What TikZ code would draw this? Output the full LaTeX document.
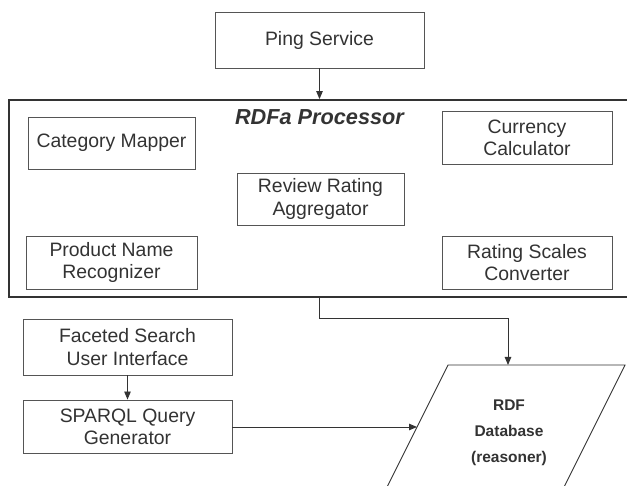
\documentclass[tikz,border=0pt]{standalone}
\usepackage{fontspec}
\setmainfont{Liberation Sans}
\usepackage{tikz}
\usetikzlibrary{arrows.meta,positioning,calc}
\usepackage{xcolor}
\definecolor{ink}{HTML}{333333}
\definecolor{edge}{HTML}{555555}
\tikzset{
  pbox/.style={rectangle,draw=edge,fill=white,text=ink,line width=0.9pt,
    inner sep=0pt,align=center,font=\fontsize{19.4}{22.3}\selectfont},
  outerbox/.style={rectangle,draw=ink,line width=1.8pt,inner sep=0pt},
  conn/.style={-{Triangle[length=8pt,width=6.5pt]},line width=0.9pt,color=ink},
  dbshape/.style={draw=ink,line width=0.9pt},
}

\begin{document}
\begin{tikzpicture}[x=1pt,y=-1pt]
  \clip (0,0) rectangle (627,486);

  \node[pbox,minimum width=209pt,minimum height=56pt] (ping) at (319.5,40){Ping Service};
  \node[outerbox,minimum width=636pt,minimum height=197pt] (rdfa) at (327,198.5){};
  \node[font=\fontsize{21.7}{24}\selectfont\bfseries\itshape,text=ink] (title) at (319.5,117){RDFa Processor};

  \node[pbox,minimum width=167pt,minimum height=52pt] (cat) at (111.5,143){Category Mapper};
  \node[pbox,minimum width=170pt,minimum height=53pt] (cur) at (527,137.5){Currency\\Calculator};
  \node[pbox,minimum width=167pt,minimum height=52pt] (rev) at (320.5,199){Review Rating\\Aggregator};
  \node[pbox,minimum width=171pt,minimum height=53pt] (prod) at (111.5,262.5){Product Name\\Recognizer};
  \node[pbox,minimum width=170pt,minimum height=53pt] (rsc) at (527,262.5){Rating Scales\\Converter};

  \node[pbox,minimum width=209pt,minimum height=56pt] (facet) at (127.5,347){Faceted Search\\User Interface};
  \node[pbox,minimum width=209pt,minimum height=53pt] (sparql) at (127.5,426.5){SPARQL Query\\Generator};

  % database parallelogram
  \coordinate (dbTL) at (448,365);
  \coordinate (dbTR) at (625,365);
  \draw[dbshape] ($(dbTL)+(-67.5,135)$) -- (dbTL) -- (dbTR) -- ($(dbTR)+(-67.5,135)$);
  \coordinate (dbtop) at (508,365);
  \coordinate (dbleft) at (417,427);
  \node[text=ink,align=center,font=\fontsize{15.5}{26}\selectfont\bfseries] (db) at (509,433){RDF\\Database\\(reasoner)};

  \draw[conn] (ping) -- (ping |- rdfa.north);
  \draw[conn] (rdfa.south -| ping) -- ++(0,21) -| (dbtop);
  \draw[conn] (facet) -- (sparql);
  \draw[conn] (sparql.east |- dbleft) -- (dbleft);
\end{tikzpicture}
\end{document}
